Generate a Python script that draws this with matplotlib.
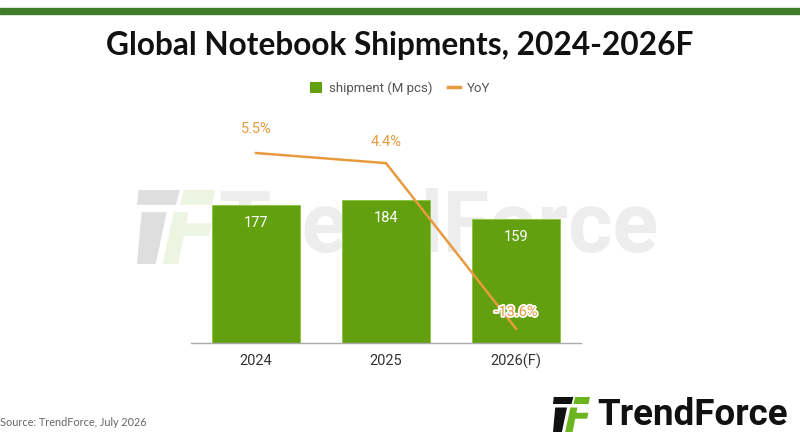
import matplotlib
matplotlib.use("Agg")
import matplotlib.pyplot as plt
from matplotlib.patches import Polygon, Rectangle, Patch
from matplotlib.lines import Line2D
import matplotlib.patheffects as pe

years = ["2024", "2025", "2026(F)"]
shipment = [177, 184, 159]
yoy = [5.5, 4.4, -13.6]
yoy_labels = ["5.5%", "4.4%", "-13.6%"]

W, H = 800, 445
BAR = "#62a010"
ORANGE = "#e89a3f"

fig = plt.figure(figsize=(8, 4.45), dpi=100)


def fx(px):
    return px / W


def fy(py):
    return 1 - py / H


# background layer for band, title, watermark
bg = fig.add_axes([0, 0, 1, 1], zorder=-1)
bg.set_xlim(0, 1)
bg.set_ylim(0, 1)
bg.axis("off")

bg.add_patch(Rectangle((0, fy(14)), 1, fy(8) - fy(14), color="#3f7d2a"))


def draw_logo(target, x0, y0, w, h, dark, green, z=1):
    # unit coords: u left->right, v top->bottom
    shapes = [
        ([(0.02, 0.0), (0.55, 0.0), (0.50, 0.2), (0.0, 0.2)], dark),
        ([(0.60, 0.0), (1.0, 0.0), (0.96, 0.2), (0.55, 0.2)], green),
        ([(0.06, 0.3), (0.38, 0.3), (0.24, 1.0), (0.0, 1.0)], dark),
        ([(0.47, 0.3), (0.66, 0.3), (0.53, 1.0), (0.33, 1.0)], green),
        ([(0.52, 0.45), (0.96, 0.45), (0.92, 0.62), (0.49, 0.62)], green),
    ]
    for pts, c in shapes:
        xy = [(fx(x0 + u * w), fy(y0 + v * h)) for u, v in pts]
        target.add_patch(Polygon(xy, closed=True, facecolor=c, edgecolor="none", zorder=z))


# watermark behind the chart
draw_logo(bg, 137, 190, 78, 74, "#dedede", "#eef4e2", z=0)
bg.text(fx(218), fy(229), "TrendForce", ha="left", va="center", fontsize=61,
        fontweight="bold", family="Roboto", color="#ededed", zorder=0)

bg.text(0.5, fy(45), "Global Notebook Shipments, 2024-2026F", ha="center", va="center",
        fontsize=22.8, fontweight="bold", family="Lato", color="#111111")

ax = fig.add_axes([fx(191), fy(343), fx(390), 233.5 / H], zorder=1)
ax.set_facecolor("none")
x = range(len(years))
bars = ax.bar(x, shipment, width=0.67, color=BAR, edgecolor="#8cc43c", linewidth=0.6, zorder=2)
ax.set_xlim(-0.5, 2.5)
ax.set_ylim(0, 300)
for xi, v in zip(x, shipment):
    ax.annotate(str(v), (xi, v), xytext=(0, -13), textcoords="offset points",
                ha="center", va="center", color="white", fontsize=10.5, family="Roboto", zorder=3)

ax.set_xticks(list(x))
ax.set_xticklabels(years, fontsize=10.5, family="Roboto", color="#333333")
ax.tick_params(axis="x", length=0, pad=8)
ax.set_yticks([])
for s in ["top", "left", "right"]:
    ax.spines[s].set_visible(False)
ax.spines["bottom"].set_color("#aaaaaa")
ax.spines["bottom"].set_linewidth(1)

ax2 = ax.twinx()
ax2.set_ylim(-15.15, 10.23)
ax2.plot(list(x), yoy, color=ORANGE, linewidth=1.8, zorder=4)
ax2.set_yticks([])
for s in ax2.spines.values():
    s.set_visible(False)
offs = [17, 15, 12]
for i, (xi, v, lab) in enumerate(zip(x, yoy, yoy_labels)):
    t = ax2.annotate(lab, (xi, v), xytext=(0, offs[i]), textcoords="offset points",
                     ha="center", va="center", color=ORANGE, fontsize=10.5, family="Roboto", zorder=5)
    if v < 0:
        t.set_path_effects([pe.withStroke(linewidth=2.5, foreground="white")])

handles = [Patch(facecolor=BAR, edgecolor="none"),
           Line2D([0], [0], color=ORANGE, linewidth=2.5)]
fig.legend(handles, ["shipment (M pcs)", "YoY"], loc="center", bbox_to_anchor=(0.5, fy(88)),
           ncol=2, frameon=False, handlelength=0.9, handleheight=0.9, handletextpad=0.5,
           columnspacing=1.2, prop={"family": "Roboto", "size": 9.5}, labelcolor="#555555")

fig.text(0.0, fy(422), "Source: TrendForce, July 2026", ha="left", va="center",
         fontsize=7.8, family="Lato", color="#666666")
draw_logo(bg, 553, 397, 37, 35, "#111111", "#6cb51e", z=2)
fig.text(fx(597), fy(415), "TrendForce", ha="left", va="center", fontsize=26.5,
         fontweight="bold", family="Roboto", color="#111111")

fig.savefig("out.png", dpi=100)
